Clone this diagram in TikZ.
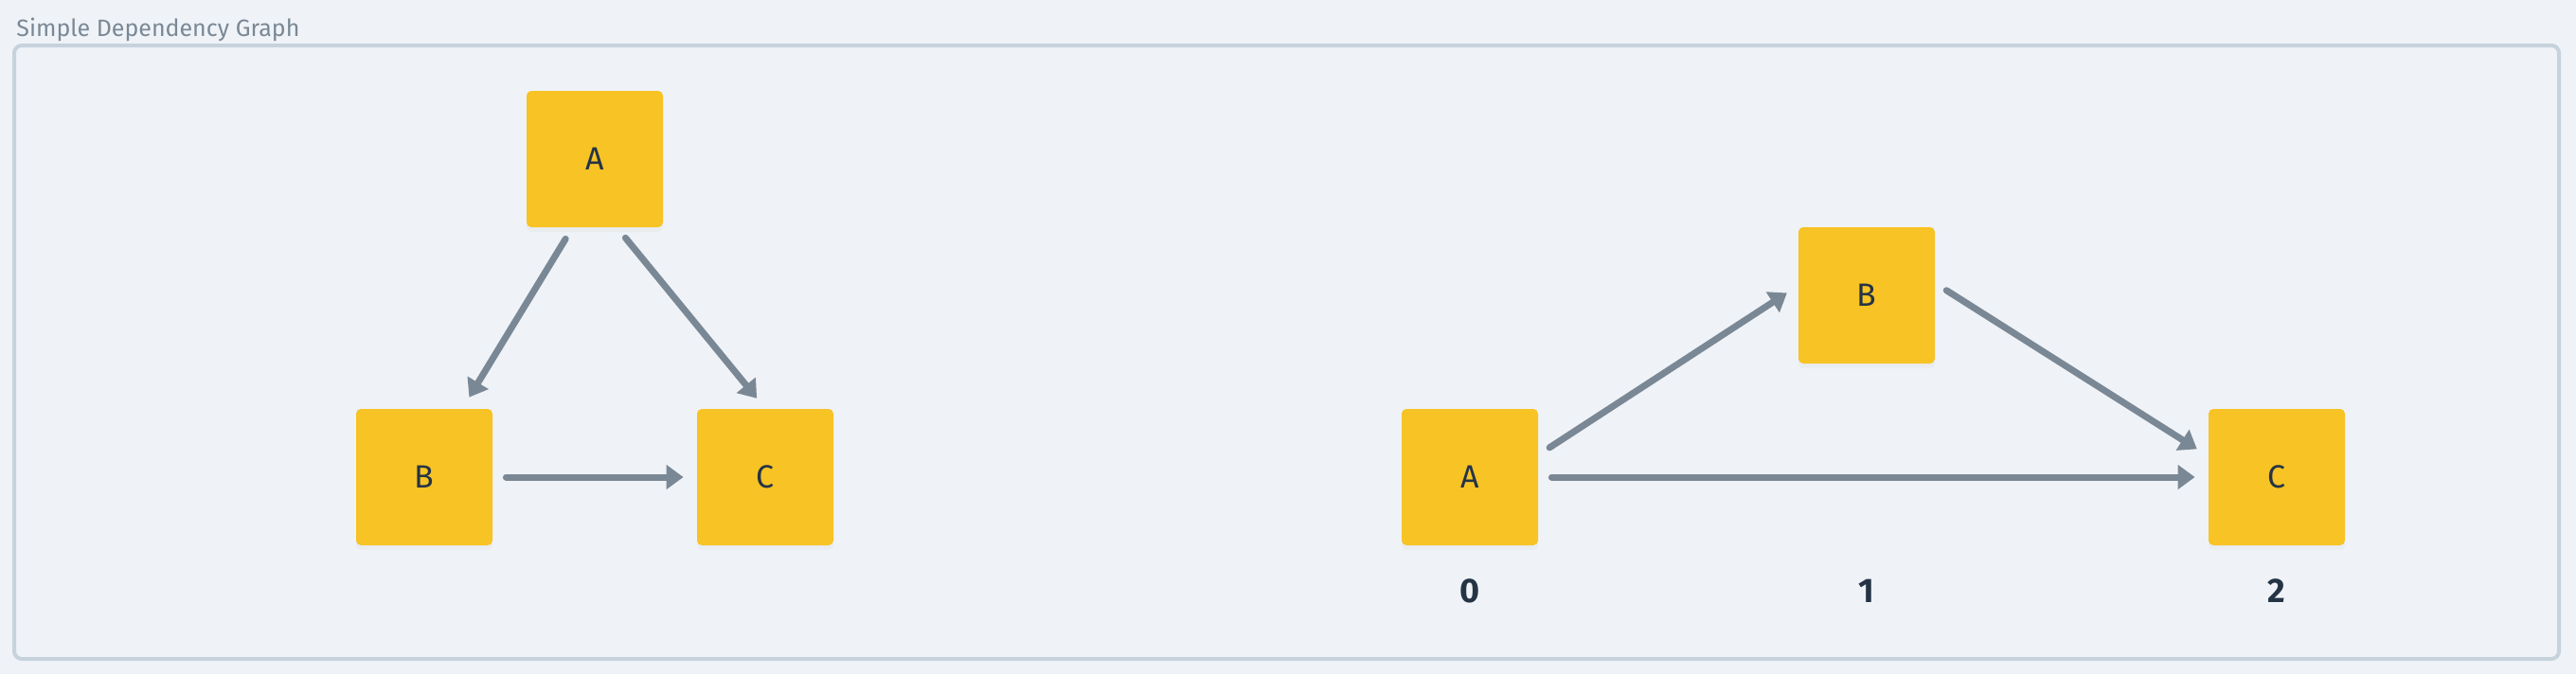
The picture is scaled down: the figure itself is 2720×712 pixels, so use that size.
\documentclass[tikz,border=0pt]{standalone}
\usepackage{fontspec}
\setmainfont{Fira Sans}
\usetikzlibrary{arrows.meta,shadows}
\definecolor{bgcol}{HTML}{EFF3F7}
\definecolor{framecol}{HTML}{C6D2DC}
\definecolor{nodecol}{HTML}{F7C325}
\definecolor{edgecol}{HTML}{7A8896}
\definecolor{inkcol}{HTML}{253445}
\tikzset{
  task/.style={fill=nodecol, rounded corners=2.5pt, minimum size=72pt, inner sep=0pt,
    text=inkcol, font=\fontsize{17}{20}\selectfont,
    drop shadow={opacity=0.05, shadow xshift=0pt, shadow yshift=-2.5pt}},
  dep/.style={draw=edgecol, line width=3.5pt, line cap=round,
    -{Triangle[length=9pt,width=12.5pt]}, shorten <=7pt, shorten >=7pt},
  level/.style={text=inkcol, font=\bfseries\fontsize{18}{21}\selectfont}
}
\begin{document}
\begin{tikzpicture}[x=0.5pt,y=-0.5pt]
\fill[bgcol] (0,0) rectangle (2720,712);
\useasboundingbox (0,0) rectangle (2720,712);
\draw[framecol, line width=2pt, rounded corners=4pt] (15,48) rectangle (2702,696);
\node[anchor=base west, inner sep=0pt, text=edgecol, font=\fontsize{12.5}{15}\selectfont] (title) at (17,39) {Simple Dependency Graph};
% graph
\node[task] (a1) at (628,168) {A};
\node[task] (b1) at (448,504) {B};
\node[task] (c1) at (808,504) {C};
\draw[dep] (a1.252) -- (b1.61);
\draw[dep] (a1.288) -- (c1.north);
\draw[dep] (b1.east) -- (c1.west);
% levels
\node[task] (a2) at (1552,504) {A};
\node[task] (b2) at (1971,312) {B};
\node[task] (c2) at (2404,504) {C};
\foreach \n/\x in {0/1552,1/1971,2/2404}
  \node[level] (lvl\n) at (\x,624) {\n};
\draw[dep] (a2.18) -- (b2.172);
\draw[dep] (b2.10) -- (c2.163);
\draw[dep] (a2.east) -- (c2.west);
\end{tikzpicture}
\end{document}
